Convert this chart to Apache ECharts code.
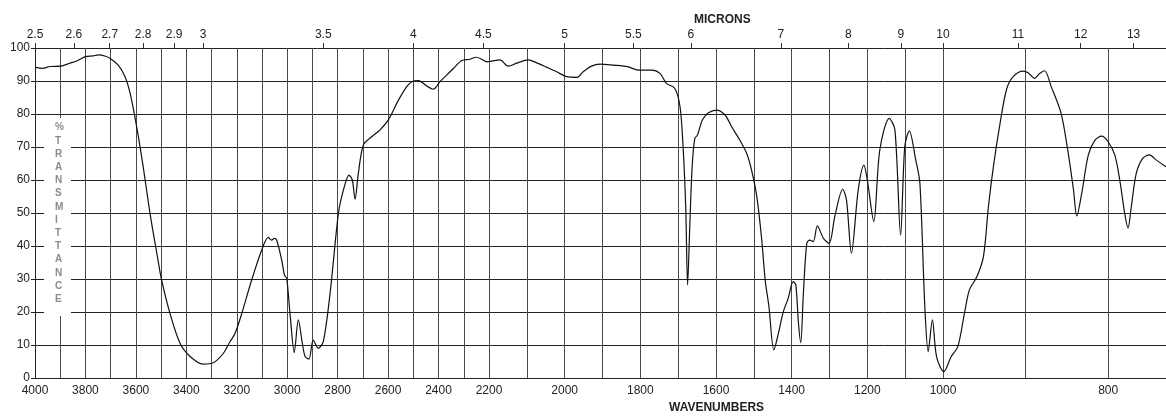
<!DOCTYPE html>
<html>
<head>
<meta charset="utf-8">
<script src="https://cdn.jsdelivr.net/npm/echarts@6/dist/echarts.min.js"></script>
<style>
  html, body { margin: 0; padding: 0; background: #fff; }
  #chart { width: 1166px; height: 416px; }
</style>
</head>
<body>
<div id="chart"></div>
<script>
// spectrum: wavenumber (cm-1) and % transmittance
const wavenumbers = [4000, 3970, 3940, 3900, 3861, 3830, 3800, 3770, 3749, 3720, 3703, 3670, 3643, 3623, 3597, 3571, 3544, 3517, 3498, 3465, 3425, 3385, 3333, 3293, 3253, 3227, 3207, 3180, 3141, 3101, 3075, 3062, 3051, 3042, 3022, 3011, 3002, 2989, 2972, 2956, 2940, 2929, 2914, 2897, 2877, 2857, 2830, 2797, 2777, 2755, 2742, 2731, 2718, 2698, 2665, 2632, 2599, 2559, 2526, 2506, 2480, 2447, 2421, 2394, 2368, 2341, 2308, 2275, 2251, 2229, 2209, 2193, 2171, 2149, 2127, 2096, 2074, 2048, 2021, 1995, 1967, 1951, 1929, 1907, 1872, 1832, 1806, 1770, 1748, 1731, 1709, 1695, 1687, 1680, 1675, 1669, 1663, 1656, 1649, 1636, 1620, 1598, 1576, 1559, 1537, 1519, 1506, 1492, 1479, 1470, 1460, 1447, 1435, 1422, 1409, 1396, 1389, 1382, 1376, 1369, 1360, 1352, 1343, 1332, 1316, 1301, 1286, 1265, 1255, 1242, 1224, 1209, 1200, 1183, 1167, 1142, 1127, 1112, 1101, 1089, 1072, 1061, 1048, 1039, 1028, 1017, 999, 990, 982, 974, 968, 959, 951, 945, 939, 931, 923, 915, 903, 897, 889, 883, 877, 869, 857, 849, 842, 838, 832, 824, 816, 808, 800, 792, 786, 780, 776, 772, 766, 758, 750, 742, 730];
const transmittance = [94.2, 93.8, 94.4, 94.5, 95.4, 96.2, 97.4, 97.6, 97.9, 97.5, 96.9, 94.8, 91.3, 86.3, 76.2, 64.0, 49.9, 37.8, 29.7, 19.6, 10.5, 6.5, 4.2, 4.6, 7.5, 11, 13.5, 19.6, 29.7, 38.8, 42.6, 41.8, 42.3, 41.8, 35.8, 31.2, 30.2, 19.6, 7.7, 17.6, 10.5, 6.5, 5.7, 11.5, 9.0, 11, 25.7, 49.9, 57, 61.5, 60, 54.2, 62, 70.6, 73.1, 75.2, 78.2, 84.2, 88.3, 89.8, 90.1, 88.5, 87.5, 89.8, 91.8, 93.8, 96.2, 96.6, 97.2, 96.6, 95.8, 96, 96.4, 94.5, 95.4, 96.4, 95.5, 94.2, 92.8, 91.3, 91.1, 92.8, 94.5, 95.1, 94.8, 94.3, 93.3, 93.3, 92.3, 89.3, 87.8, 82.2, 70.1, 51.9, 28.2, 46.9, 64.0, 72.6, 73.6, 78.2, 80.4, 81.2, 79.7, 76.2, 72.1, 68.1, 63.0, 54.9, 41.8, 29.7, 21.6, 8.5, 13.5, 20.1, 24.2, 29.2, 28.2, 16.6, 10.7, 25.7, 40.8, 41.8, 41.3, 46.1, 42.3, 40.8, 48.9, 57.2, 53.9, 37.8, 57.0, 64.5, 60.0, 47.4, 69.1, 78.7, 75.2, 43.3, 70.1, 74.9, 66.1, 59.0, 21.6, 8.0, 17.6, 6.5, 1.9, 6.5, 9.5, 19.6, 26.7, 30.7, 36.8, 51.9, 64.0, 77, 87.5, 91.3, 93.0, 92.5, 90.8, 92.3, 93.1, 88.3, 80.2, 69.1, 57, 49.1, 56, 67.6, 72.1, 73.3, 71.6, 67.6, 60, 49.9, 45.4, 51.9, 62, 66.6, 67.6, 66.1, 64];

// axis ticks
const wnLabels = [4000, 3800, 3600, 3400, 3200, 3000, 2800, 2600, 2400, 2200, 2000, 1800, 1600, 1400, 1200, 1000, 800];
const wnGrid = [];
for (let w = 3900; w >= 1000; w -= 100) wnGrid.push(w);
wnGrid.push(900, 800);
const micronLabels = [2.5, 2.6, 2.7, 2.8, 2.9, 3, 3.5, 4, 4.5, 5, 5.5, 6, 7, 8, 9, 10, 11, 12, 13];
const wnStart = 4000, wnEnd = 730;

// chart paper changes scale at 2200 and 1000 cm-1
function toAxis(wn) {
  if (wn >= 2200) return 4000 - wn;
  if (wn >= 1000) return 1800 + (2200 - wn) * 1.5;
  return 3600 + (1000 - wn) * 3.275;
}
function fromAxis(u) {
  if (u <= 1800) return 4000 - u;
  if (u <= 3600) return 2200 - (u - 1800) / 1.5;
  return 1000 - (u - 3600) / 3.275;
}

const lineData = wavenumbers.map((w, i) => [toAxis(w), transmittance[i]]);

const chart = echarts.init(document.getElementById('chart'));
const font = 'Liberation Sans, Arial, sans-serif';

const option = {
  animation: false,
  grid: { left: 35, right: 0, top: 48, bottom: 38 },
  xAxis: [
    {
      type: 'value',
      position: 'bottom',
      min: toAxis(wnStart),
      max: toAxis(wnEnd),
      axisLine: { show: true, lineStyle: { color: '#222', width: 1 } },
      axisTick: { show: false, customValues: wnGrid.map(toAxis) },
      splitLine: { show: true, lineStyle: { color: '#4a4a4a', width: 1 } },
      axisLabel: {
        customValues: wnLabels.map(toAxis),
        formatter: v => String(Math.round(fromAxis(v))),
        color: '#222', fontFamily: font, fontSize: 12, margin: 7
      }
    },
    {
      type: 'value',
      position: 'top',
      min: toAxis(wnStart),
      max: toAxis(wnEnd),
      axisLine: { show: false },
      axisTick: {
        show: true, inside: false, length: 5,
        customValues: micronLabels.map(m => toAxis(10000 / m)),
        lineStyle: { color: '#333' }
      },
      splitLine: { show: false },
      axisLabel: {
        customValues: micronLabels.map(m => toAxis(10000 / m)),
        formatter: v => String(Math.round(10000 / fromAxis(v) * 10) / 10),
        color: '#222', fontFamily: font, fontSize: 12, margin: 7
      }
    }
  ],
  yAxis: {
    type: 'value',
    min: 0,
    max: 100,
    interval: 10,
    axisLine: { show: true, lineStyle: { color: '#222', width: 1 } },
    axisTick: { show: true, length: 4, lineStyle: { color: '#222' } },
    splitLine: { show: true, lineStyle: { color: '#222', width: 1 } },
    axisLabel: { color: '#222', fontFamily: font, fontSize: 12, margin: 5 }
  },
  graphic: [
    { type: 'rect', left: 44, top: 118, shape: { width: 27, height: 198 }, style: { fill: '#fff' }, z: 10 },
    {
      type: 'text', left: 55, top: 121, z: 11,
      style: {
        text: '%\nT\nR\nA\nN\nS\nM\nI\nT\nT\nA\nN\nC\nE',
        fill: '#8c8c8c', font: 'bold 10px ' + font, lineHeight: 13.2, align: 'center', width: 14
      }
    },
    {
      type: 'text', left: 669, top: 402,
      style: { text: 'WAVENUMBERS', fill: '#222', font: 'bold 12px ' + font }
    },
    {
      type: 'text', left: 694, top: 14,
      style: { text: 'MICRONS', fill: '#222', font: 'bold 12px ' + font }
    }
  ],
  series: [
    {
      type: 'line',
      xAxisIndex: 0,
      data: lineData,
      showSymbol: false,
      smooth: 0.3,
      lineStyle: { color: '#111', width: 1.2 },
      z: 5
    }
  ]
};
chart.setOption(option);
</script>
</body>
</html>
